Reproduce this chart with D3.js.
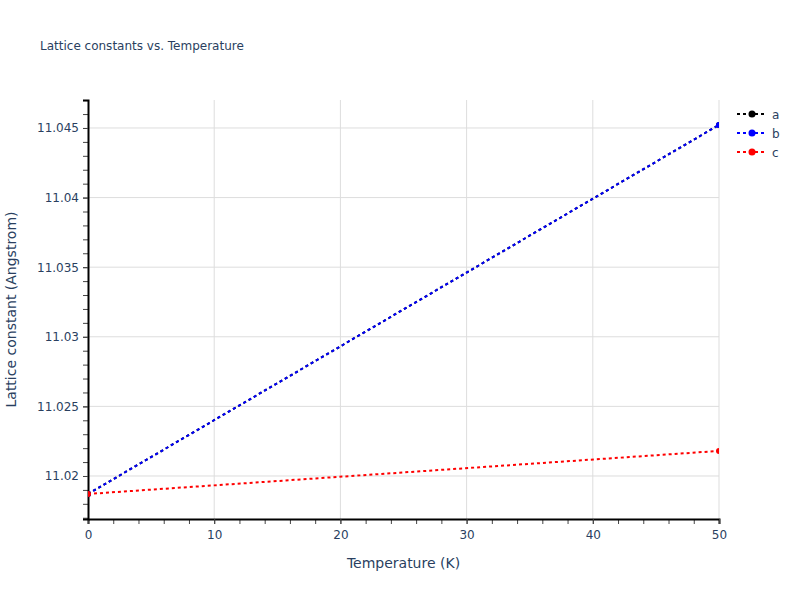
<!DOCTYPE html>
<html lang="en">
<head>
<meta charset="UTF-8">
<title>Lattice constants vs. Temperature</title>
<script src="https://d3js.org/d3.v7.min.js"></script>
<style>
  body { margin: 0; background: #fff; }
  svg { font-family: "DejaVu Sans", verdana, arial, sans-serif; }
</style>
</head>
<body>
<div class="chart"></div>
<script>
// values
const temps = [0, 50]
const latA = [11.01871, 11.04522]
const latB = [11.01871, 11.04522]
const latC = [11.01871, 11.02180]
const seriesNames = ['a', 'b', 'c']
const seriesColors = ['#000000', '#0000ff', '#ff0000']
const xTicks = [0, 10, 20, 30, 40, 50]
const yTicks = [11.02, 11.025, 11.03, 11.035, 11.04, 11.045]

const width = 800, height = 600
const plot = {left: 88, right: 719, top: 100, bottom: 519}
const fontFam = '"DejaVu Sans", verdana, arial, sans-serif'

const svg = d3.select('.chart').append('svg')
  .attr('width', width).attr('height', height)

const xScale = d3.scaleLinear().domain([0, 50]).range([plot.left, plot.right])
const yScale = d3.scaleLinear().domain([11.01691, 11.04701]).range([plot.bottom, plot.top])

// grid
svg.append('g').selectAll('line').data(xTicks.slice(1))
  .join('line')
  .attr('x1', d => xScale(d)).attr('x2', d => xScale(d))
  .attr('y1', plot.top).attr('y2', plot.bottom)
  .attr('stroke', '#dddddd').attr('stroke-width', 1)
svg.append('g').selectAll('line').data(yTicks)
  .join('line')
  .attr('x1', plot.left).attr('x2', plot.right)
  .attr('y1', d => yScale(d)).attr('y2', d => yScale(d))
  .attr('stroke', '#dddddd').attr('stroke-width', 1)

// minor ticks
const xMinor = d3.range(0, 50.001, 2)
const yMinor = d3.range(11.017, 11.0471, 0.001)

const xAxis = d3.axisBottom(xScale).tickValues(xTicks).tickSize(5).tickPadding(6)
  .tickFormat(d3.format('d'))
const yAxis = d3.axisLeft(yScale).tickValues(yTicks).tickSize(5).tickPadding(4)
  .tickFormat(d => String(+d.toFixed(3)))

const gxMinor = svg.append('g').attr('transform', `translate(0,${plot.bottom})`)
  .call(d3.axisBottom(xScale).tickValues(xMinor).tickSize(5).tickFormat(''))
const gyMinor = svg.append('g').attr('transform', `translate(${plot.left},0)`)
  .call(d3.axisLeft(yScale).tickValues(yMinor).tickSize(5).tickFormat(''))
;[gxMinor, gyMinor].forEach(g => {
  g.select('.domain').remove()
  g.selectAll('line').attr('stroke', '#444')
})

const gx = svg.append('g').attr('transform', `translate(0,${plot.bottom})`).call(xAxis)
const gy = svg.append('g').attr('transform', `translate(${plot.left},0)`).call(yAxis)
;[gx, gy].forEach(g => {
  g.select('.domain').attr('stroke', '#000').attr('stroke-width', 2)
  g.selectAll('.tick line').attr('stroke', '#444')
  g.selectAll('text').attr('fill', '#2a3f5f').style('font-size', '12px')
    .style('font-family', fontFam)
})

// lines
svg.append('clipPath').attr('id', 'clip')
  .append('rect')
  .attr('x', plot.left).attr('y', plot.top)
  .attr('width', plot.right - plot.left).attr('height', plot.bottom - plot.top)

const series = [latA, latB, latC].map((vals, i) => ({
  name: seriesNames[i], color: seriesColors[i],
  points: temps.map((t, j) => ({x: t, y: vals[j]}))
}))

const line = d3.line().x(d => xScale(d.x)).y(d => yScale(d.y))
const plotArea = svg.append('g').attr('clip-path', 'url(#clip)')
const sg = plotArea.selectAll('g.series').data(series).join('g').attr('class', 'series')
sg.append('path')
  .attr('d', d => line(d.points))
  .attr('fill', 'none')
  .attr('stroke', d => d.color)
  .attr('stroke-width', 2)
  .attr('stroke-dasharray', '3,3')
sg.selectAll('circle').data(d => d.points.map(p => ({...p, color: d.color})))
  .join('circle')
  .attr('cx', d => xScale(d.x)).attr('cy', d => yScale(d.y))
  .attr('r', 3).attr('fill', d => d.color)

// legend
const legend = svg.append('g').selectAll('g').data(series).join('g')
  .attr('transform', (d, i) => `translate(737,${114 + i * 19})`)
legend.append('line')
  .attr('x1', 0).attr('x2', 28).attr('y1', 0).attr('y2', 0)
  .attr('stroke', d => d.color).attr('stroke-width', 2).attr('stroke-dasharray', '3,3')
legend.append('circle').attr('cx', 15).attr('cy', 0).attr('r', 3.5).attr('fill', d => d.color)
legend.append('text').attr('x', 35).attr('y', 4.5)
  .attr('fill', '#2a3f5f').style('font-size', '12px').text(d => d.name)

// titles
svg.append('text').attr('x', 40).attr('y', 50)
  .attr('fill', '#2a3f5f').style('font-size', '12px')
  .text('Lattice constants vs. Temperature')
svg.append('text').attr('x', (plot.left + plot.right) / 2).attr('y', 568)
  .attr('text-anchor', 'middle').attr('fill', '#2a3f5f').style('font-size', '14px')
  .text('Temperature (K)')
svg.append('text')
  .attr('transform', `translate(16,${(plot.top + plot.bottom) / 2}) rotate(-90)`)
  .attr('text-anchor', 'middle').attr('fill', '#2a3f5f').style('font-size', '14px')
  .text('Lattice constant (Angstrom)')
</script>
</body>
</html>
